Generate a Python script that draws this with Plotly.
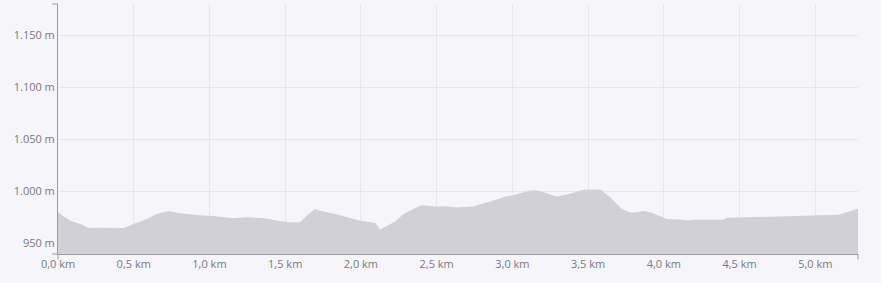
import plotly.graph_objects as go

# Distance (km) and elevation (m)
distance_km = [0.0, 0.035, 0.09, 0.157, 0.2, 0.244, 0.431, 0.497, 0.586, 0.652, 0.729,
               0.806, 0.938, 1.026, 1.158, 1.246, 1.378, 1.466, 1.532, 1.598, 1.643,
               1.697, 1.752, 1.83, 1.995, 2.094, 2.127, 2.226, 2.281, 2.391, 2.435,
               2.501, 2.556, 2.633, 2.743, 2.875, 2.964, 2.997, 3.118, 3.162, 3.228,
               3.294, 3.36, 3.47, 3.58, 3.646, 3.723, 3.778, 3.811, 3.866, 3.921,
               4.02, 4.108, 4.163, 4.196, 4.394, 4.417, 4.681, 4.901, 5.154, 5.209, 5.282]
elevation_m = [980.0, 976.3, 971.5, 968.3, 965.0, 965.3, 965.0, 969.0, 973.7, 978.5, 981.4,
               979.2, 977.2, 976.6, 974.3, 975.3, 974.0, 971.5, 970.5, 970.5, 977.0,
               983.3, 980.8, 978.5, 972.0, 969.9, 963.5, 971.2, 978.5, 986.5, 986.5,
               985.3, 985.9, 984.6, 985.6, 991.3, 995.5, 996.2, 1001.0, 1001.3, 998.4,
               995.2, 997.1, 1001.6, 1001.9, 994.5, 983.3, 979.8, 979.8, 981.4, 979.5,
               973.7, 973.1, 972.1, 972.8, 972.8, 974.7, 976.0, 976.9, 977.6, 980.1, 983.7]

x_tick_vals = [0.0, 0.5, 1.0, 1.5, 2.0, 2.5, 3.0, 3.5, 4.0, 4.5, 5.0]
x_tick_text = ["0,0 km", "0,5 km", "1,0 km", "1,5 km", "2,0 km", "2,5 km",
               "3,0 km", "3,5 km", "4,0 km", "4,5 km", "5,0 km"]
y_tick_vals = [950, 1000, 1050, 1100, 1150]
y_tick_text = ["950 m", "1.000 m", "1.050 m", "1.100 m", "1.150 m"]

bg = "#f5f5fa"
axis_col = "#9a9a9f"
grid_col = "#e6e6ec"
text_col = "#7a7a7e"

fig = go.Figure()
fig.add_trace(go.Scatter(
    x=distance_km, y=elevation_m, mode="lines",
    line=dict(width=0, color="#d1d0d6"),
    fill="tozeroy", fillcolor="#d1d0d6",
    hoverinfo="skip", showlegend=False,
))

fig.update_layout(
    width=881, height=283,
    margin=dict(l=58, r=23, t=4, b=29),
    paper_bgcolor=bg, plot_bgcolor=bg,
    font=dict(family="Open Sans, sans-serif", size=11, color=text_col),
    xaxis=dict(
        range=[0, distance_km[-1]], tickvals=x_tick_vals, ticktext=x_tick_text,
        showgrid=True, gridcolor=grid_col, gridwidth=1,
        showline=True, linecolor=axis_col, linewidth=1,
        ticks="", zeroline=False, fixedrange=True,
        tickfont=dict(size=11, color=text_col),
    ),
    yaxis=dict(
        range=[940, 1180], tickvals=y_tick_vals, ticktext=y_tick_text,
        showgrid=True, gridcolor=grid_col, gridwidth=1,
        showline=True, linecolor=axis_col, linewidth=1,
        ticks="", zeroline=False, fixedrange=True,
        tickfont=dict(size=11, color=text_col),
    ),
)

# outer end ticks of the axes (domain-relative)
tick_style = dict(color=axis_col, width=1)
fig.add_shape(type="line", xref="x domain", yref="paper", x0=0, x1=0, y0=0, y1=-0.0215, line=tick_style)
fig.add_shape(type="line", xref="x domain", yref="paper", x0=1, x1=1, y0=0, y1=-0.0215, line=tick_style)
fig.add_shape(type="line", xref="paper", yref="y domain", x0=0, x1=-0.0075, y0=0, y1=0, line=tick_style)
fig.add_shape(type="line", xref="paper", yref="y domain", x0=0, x1=-0.0075, y0=1, y1=1, line=tick_style)

fig.write_html("out.html")
